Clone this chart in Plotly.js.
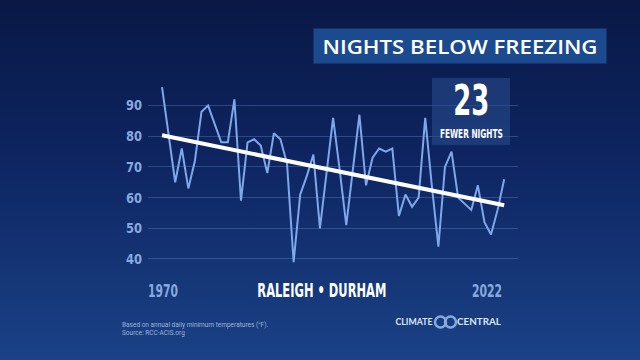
<!DOCTYPE html>
<html>
<head>
<meta charset="utf-8">
<script src="https://cdn.plot.ly/plotly-3.0.1.min.js"></script>
<style>
html,body{margin:0;padding:0;width:640px;height:360px;overflow:hidden;
background:linear-gradient(180deg,#091845 0%,#0e2562 45%,#1a4286 100%);}
#chart{width:640px;height:360px;}
</style>
</head>
<body>
<div id="chart"></div>
<script>
const years = [1970,1971,1972,1973,1974,1975,1976,1977,1978,1979,
  1980,1981,1982,1983,1984,1985,1986,1987,1988,1989,
  1990,1991,1992,1993,1994,1995,1996,1997,1998,1999,
  2000,2001,2002,2003,2004,2005,2006,2007,2008,2009,
  2010,2011,2012,2013,2014,2015,2016,2017,2018,2019,
  2020,2021,2022];
const nights = [96,80,65,76,63,72,88,90,84,78,
  78,92,59,78,79,77,68,81,79,71,
  39,61,67,74,50,69,86,69,51,69,
  87,64,73,76,75,76,54,61,57,60,
  86,64,44,70,75,60,58,56,64,52,
  48,56,66];
const trendYears = [1970, 2022];
const trendValues = [80.3, 57.5];
const yTicks = [40,50,60,70,80,90];
const titleText = "NIGHTS BELOW FREEZING";
const changeValue = "23";
const changeLabel = "FEWER NIGHTS";
const placeText = "RALEIGH \u2022 DURHAM";
const footText = "Based on annual daily minimum temperatures (\u00b0F).<br>Source: RCC-ACIS.org";

const W = 640, H = 360;
const px = v => v / W;
const py = v => (H - v) / H;
const cond = "DejaVu Sans, sans-serif";

const traces = [
  {x: years, y: nights, type: "scatter", mode: "lines",
   line: {color: "#7ea8ea", width: 2}, hoverinfo: "skip"},
  {x: trendYears, y: trendValues, type: "scatter", mode: "lines",
   line: {color: "#ffffff", width: 4}, hoverinfo: "skip"}
];

const layout = {
  width: W, height: H,
  paper_bgcolor: "rgba(0,0,0,0)", plot_bgcolor: "rgba(0,0,0,0)",
  showlegend: false,
  margin: {l: 0, r: 0, t: 0, b: 0},
  xaxis: {domain: [px(148), px(518)], range: [1967.87, 2024.1], showgrid: false, zeroline: false,
          showticklabels: false, showline: false, fixedrange: true},
  yaxis: {domain: [py(268.2), py(77.3)], range: [37, 99.2], tickvals: yTicks, showgrid: true,
          gridcolor: "rgba(110,145,210,0.35)", gridwidth: 1, zeroline: false,
          showline: false, ticks: "", ticklabelstandoff: 5,
          tickfont: {family: cond, size: 14, color: "#86a9df", weight: "bold"},
          fixedrange: true},
  shapes: [
    {type: "rect", xref: "paper", yref: "paper",
     x0: px(432), x1: px(510), y0: py(145), y1: py(78),
     fillcolor: "rgba(40,75,140,0.6)", line: {width: 0}, layer: "above"},
    {type: "circle", xref: "paper", yref: "paper",
     x0: px(435), x1: px(446), y0: py(327.5), y1: py(316.5),
     fillcolor: "rgba(0,0,0,0)", line: {color: "#86a9df", width: 2.5}},
    {type: "circle", xref: "paper", yref: "paper",
     x0: px(445), x1: px(456), y0: py(327.5), y1: py(316.5),
     fillcolor: "rgba(0,0,0,0)", line: {color: "#86a9df", width: 2.5}}
  ],
  annotations: [
    {text: titleText, xref: "paper", yref: "paper", x: px(460), y: py(46),
     xanchor: "center", yanchor: "middle", showarrow: false,
     width: 290, height: 32, bgcolor: "#1c4a8e",
     font: {family: "Open Sans, sans-serif", size: 20, color: "#ffffff", weight: 600}},
    {text: changeValue, xref: "paper", yref: "paper", x: px(471), y: py(100.5),
     xanchor: "center", yanchor: "middle", showarrow: false, borderpad: 0,
     font: {family: cond, size: 42, color: "#ffffff", weight: "bold"}},
    {text: changeLabel, xref: "paper", yref: "paper", x: px(471), y: py(133),
     xanchor: "center", yanchor: "middle", showarrow: false, borderpad: 0,
     font: {family: cond, size: 12.5, color: "#ffffff", weight: "bold"}},
    {text: String(years[0]), xref: "paper", yref: "paper", x: px(163), y: py(290),
     xanchor: "center", yanchor: "middle", showarrow: false,
     font: {family: cond, size: 18, color: "#86a9df", weight: "bold"}},
    {text: String(years[years.length - 1]), xref: "paper", yref: "paper", x: px(487), y: py(290),
     xanchor: "center", yanchor: "middle", showarrow: false,
     font: {family: cond, size: 18, color: "#86a9df", weight: "bold"}},
    {text: placeText, xref: "paper", yref: "paper", x: px(322), y: py(290),
     xanchor: "center", yanchor: "middle", showarrow: false,
     font: {family: cond, size: 19, color: "#ffffff", weight: "bold"}},
    {text: footText, xref: "paper", yref: "paper", x: px(120), y: py(319),
     xanchor: "left", yanchor: "top", align: "left", showarrow: false,
     font: {family: "Roboto, sans-serif", size: 6.5, color: "#9db5dc"}},
    {text: "CLIMATE", xref: "paper", yref: "paper", x: px(434), y: py(322),
     xanchor: "right", yanchor: "middle", showarrow: false,
     font: {family: "Lato, sans-serif", size: 8.5, color: "#dbe5f5", weight: "bold"}},
    {text: "CENTRAL", xref: "paper", yref: "paper", x: px(458), y: py(322),
     xanchor: "left", yanchor: "middle", showarrow: false,
     font: {family: "Lato, sans-serif", size: 8.5, color: "#dbe5f5", weight: "bold"}}
  ]
};

// target rendered widths (px) to mimic the condensed / spaced typefaces of the reference
const textWidths = {"23": 36, "FEWER NIGHTS": 63, "1970": 30, "2022": 30,
  "RALEIGH \u2022 DURHAM": 129, "NIGHTS BELOW FREEZING": 275,
  "CLIMATE": 37, "CENTRAL": 44};
const tickWidth = 16;

Plotly.newPlot("chart", traces, layout, {displayModeBar: false, staticPlot: true}).then(gd => {
  gd.querySelectorAll("text.annotation-text").forEach(t => {
    const w = textWidths[t.textContent];
    if (w) { t.setAttribute("textLength", w); t.setAttribute("lengthAdjust", "spacingAndGlyphs"); }
  });
  gd.querySelectorAll("g.ytick text").forEach(t => {
    t.setAttribute("textLength", tickWidth); t.setAttribute("lengthAdjust", "spacingAndGlyphs");
  });
});
</script>
</body>
</html>
